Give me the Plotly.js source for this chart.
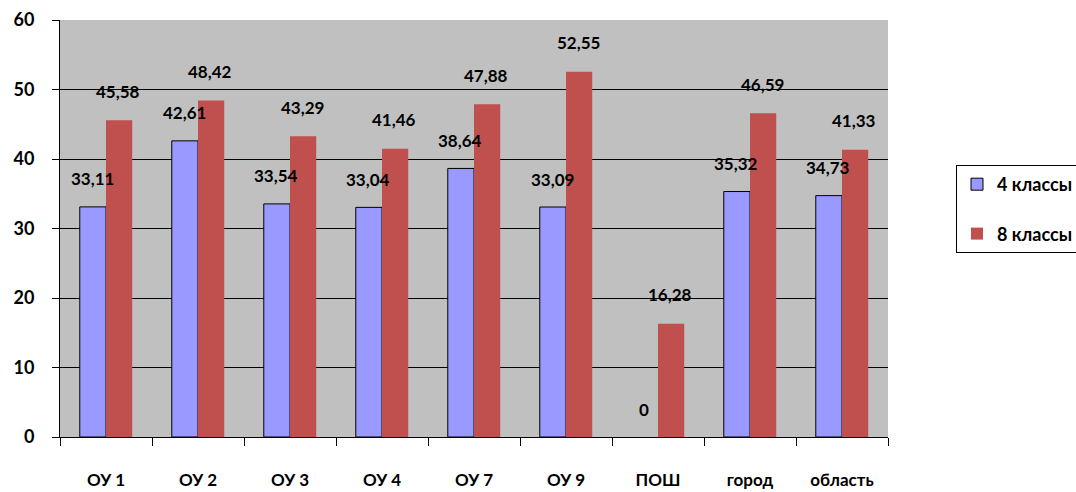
<!DOCTYPE html>
<html><head><meta charset="utf-8">
<script src="https://cdn.plot.ly/plotly-3.0.1.min.js"></script>
<style>body{margin:0;background:#fff}#c{width:1076px;height:492px}</style>
</head><body><div id="c"></div>
<script>
var categories = ["ОУ 1","ОУ 2","ОУ 3","ОУ 4","ОУ 7","ОУ 9","ПОШ","город","область"];
var grade4 = [33.11,42.61,33.54,33.04,38.64,33.09,0,35.32,34.73];
var grade8 = [45.58,48.42,43.29,41.46,47.88,52.55,16.28,46.59,41.33];
var seriesNames = ["4 классы","8 классы"];

function fmt(v){ return v.toFixed(2).replace(/\.?0+$/,'').replace('.',','); }
var FONT = "Lato, 'Open Sans', sans-serif";
var traces = [
  {type:'bar', x:categories, y:grade4, name:seriesNames[0], legendgroup:'a',
   marker:{color:'#9999ff', line:{color:'#000', width:grade4.map(function(v){return v>0?1:0;})}}},
  {type:'bar', x:categories, y:grade8, name:seriesNames[1], legendgroup:'b',
   marker:{color:'#c0504d', line:{width:0}}}
];
var ann = [];
categories.forEach(function(c,i){
  ann.push({x:c, y:grade4[i], xref:'x', yref:'y', text:fmt(grade4[i]), showarrow:false,
    xshift:-14, yshift:28, font:{family:FONT, size:17, color:'#000', weight:'bold'}});
  ann.push({x:c, y:grade8[i], xref:'x', yref:'y', text:fmt(grade8[i]), showarrow:false,
    xshift:12, yshift:29, font:{family:FONT, size:17, color:'#000', weight:'bold'}});
});
var layout = {
  width:1076, height:492,
  margin:{l:60, r:188, t:20, b:55, autoexpand:false},
  paper_bgcolor:'#fff', plot_bgcolor:'#c0c0c0',
  barmode:'group', bargap:0.43, bargroupgap:0,
  showlegend:true,
  legend:{x:(956-60)/828, xanchor:'left', y:(437-165)/417, yanchor:'top',
    bordercolor:'#000', borderwidth:1, bgcolor:'#fff', tracegroupgap:23, itemwidth:30,
    font:{family:FONT, size:18, color:'#000', weight:'bold'}},
  xaxis:{type:'category', showline:true, linecolor:'#000', linewidth:1, ticks:'outside', tickson:'boundaries',
    ticklen:8, tickcolor:'#000', ticklabelstandoff:28, showgrid:false,
    tickfont:{family:FONT, size:17, color:'#000', weight:'bold'}},
  yaxis:{range:[0,60], dtick:10, showline:true, linecolor:'#000', linewidth:1, ticks:'outside', ticklen:7,
    tickcolor:'#000', showgrid:true, gridcolor:'#000', gridwidth:1, zeroline:false, ticklabelstandoff:14,
    tickfont:{family:FONT, size:18, color:'#000', weight:'bold'}},
  annotations:ann
};
Plotly.newPlot('c', traces, layout, {displayModeBar:false});
</script></body></html>
